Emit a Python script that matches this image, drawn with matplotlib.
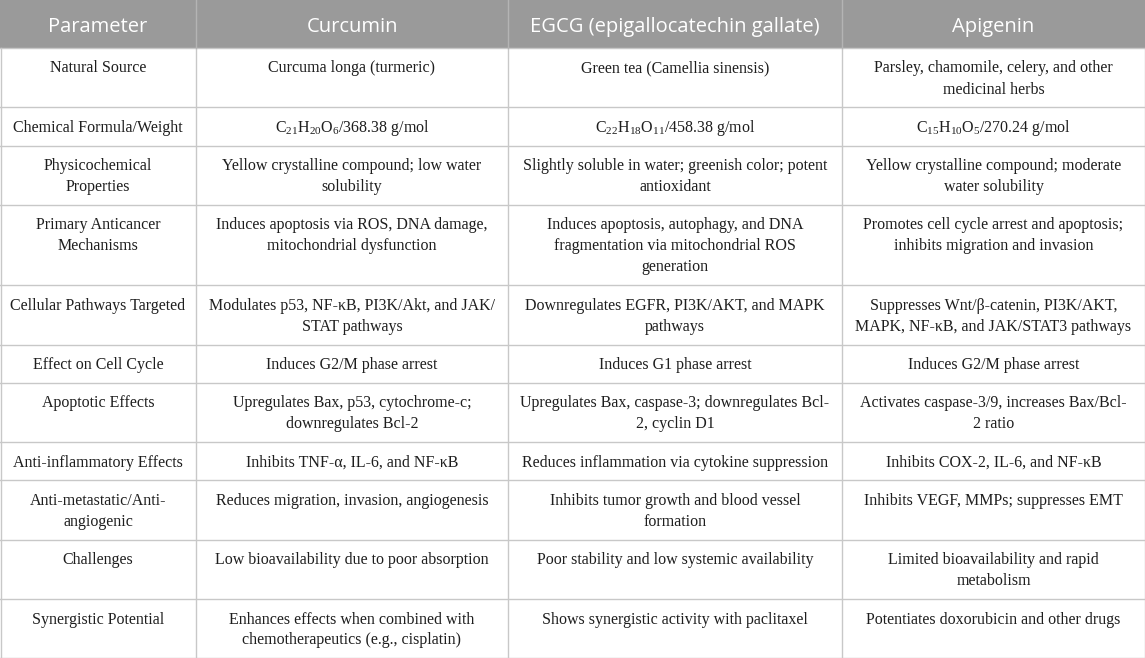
import matplotlib
matplotlib.use("Agg")
import matplotlib.pyplot as plt
from matplotlib.patches import Rectangle

plt.rcParams['mathtext.fontset'] = 'custom'
plt.rcParams['mathtext.rm'] = 'Liberation Serif'
plt.rcParams['mathtext.it'] = 'Liberation Serif'
plt.rcParams['mathtext.default'] = 'regular'

headers = ["Parameter", "Curcumin", "EGCG (epigallocatechin gallate)", "Apigenin"]

parameters = [
    "Natural Source",
    "Chemical Formula/Weight",
    "Physicochemical\nProperties",
    "Primary Anticancer\nMechanisms",
    "Cellular Pathways Targeted",
    "Effect on Cell Cycle",
    "Apoptotic Effects",
    "Anti-inflammatory Effects",
    "Anti-metastatic/Anti-\nangiogenic",
    "Challenges",
    "Synergistic Potential",
]

curcumin = [
    "Curcuma longa (turmeric)",
    r"C$_{21}$H$_{20}$O$_{6}$/368.38 g/mol",
    "Yellow crystalline compound; low water\nsolubility",
    "Induces apoptosis via ROS, DNA damage,\nmitochondrial dysfunction",
    "Modulates p53, NF-κB, PI3K/Akt, and JAK/\nSTAT pathways",
    "Induces G2/M phase arrest",
    "Upregulates Bax, p53, cytochrome-c;\ndownregulates Bcl-2",
    "Inhibits TNF-α, IL-6, and NF-κB",
    "Reduces migration, invasion, angiogenesis",
    "Low bioavailability due to poor absorption",
    "Enhances effects when combined with\nchemotherapeutics (e.g., cisplatin)",
]

egcg = [
    "Green tea (Camellia sinensis)",
    r"C$_{22}$H$_{18}$O$_{11}$/458.38 g/mol",
    "Slightly soluble in water; greenish color; potent\nantioxidant",
    "Induces apoptosis, autophagy, and DNA\nfragmentation via mitochondrial ROS\ngeneration",
    "Downregulates EGFR, PI3K/AKT, and MAPK\npathways",
    "Induces G1 phase arrest",
    "Upregulates Bax, caspase-3; downregulates Bcl-\n2, cyclin D1",
    "Reduces inflammation via cytokine suppression",
    "Inhibits tumor growth and blood vessel\nformation",
    "Poor stability and low systemic availability",
    "Shows synergistic activity with paclitaxel",
]

apigenin = [
    "Parsley, chamomile, celery, and other\nmedicinal herbs",
    r"C$_{15}$H$_{10}$O$_{5}$/270.24 g/mol",
    "Yellow crystalline compound; moderate\nwater solubility",
    "Promotes cell cycle arrest and apoptosis;\ninhibits migration and invasion",
    "Suppresses Wnt/β-catenin, PI3K/AKT,\nMAPK, NF-κB, and JAK/STAT3 pathways",
    "Induces G2/M phase arrest",
    "Activates caspase-3/9, increases Bax/Bcl-\n2 ratio",
    "Inhibits COX-2, IL-6, and NF-κB",
    "Inhibits VEGF, MMPs; suppresses EMT",
    "Limited bioavailability and rapid\nmetabolism",
    "Potentiates doxorubicin and other drugs",
]

# ---- layout ----
W, H = 1145, 658
col_edges = [0, 196, 508, 842, 1145]
header_h = 48
base_h, line_h = 17.3, 21.0

fig = plt.figure(figsize=(W / 100, H / 100), dpi=100)
ax = fig.add_axes([0, 0, 1, 1])
ax.set_xlim(0, W)
ax.set_ylim(H, 0)
ax.axis('off')

header_bg = '#9a9a9a'
grid_c = '#c8c8c8'
text_c = '#1e1e1e'

ax.add_patch(Rectangle((0, 0), W, header_h, facecolor=header_bg, edgecolor='none', zorder=0))
for i, h in enumerate(headers):
    cx = (col_edges[i] + col_edges[i + 1]) / 2
    ax.text(cx, 32, h, ha='center', va='baseline', color='white',
            fontsize=14.5, family=['Open Sans', 'DejaVu Sans'])

columns = [parameters, curcumin, egcg, apigenin]
y = header_h
row_edges = [y]
for r in range(len(parameters)):
    cells = [col[r] for col in columns]
    nlines = max(c.count('\n') + 1 for c in cells)
    for i, c in enumerate(cells):
        cx = (col_edges[i] + col_edges[i + 1]) / 2
        for k, line in enumerate(c.split('\n')):
            ax.text(cx, y + 24.5 + line_h * k, line, ha='center', va='baseline',
                    color=text_c, fontsize=11.5,
                    family=['Liberation Serif', 'DejaVu Serif'])
    y += base_h + line_h * nlines
    row_edges.append(y)

# grid lines
for ye in row_edges[:-1]:
    ax.plot([0, W], [ye, ye], color=grid_c, lw=1, zorder=1)
ax.plot([0, W], [H - 0.5, H - 0.5], color=grid_c, lw=1, zorder=1)
for xe in col_edges[1:-1]:
    ax.plot([xe, xe], [header_h, H], color=grid_c, lw=1, zorder=1)
    ax.plot([xe, xe], [0, header_h], color='#b4b4b4', lw=1, zorder=1)
ax.plot([0.5, 0.5], [header_h, H], color=grid_c, lw=1, zorder=1)
ax.plot([W - 0.5, W - 0.5], [header_h, H], color=grid_c, lw=1, zorder=1)

fig.savefig('out.png', dpi=100)
